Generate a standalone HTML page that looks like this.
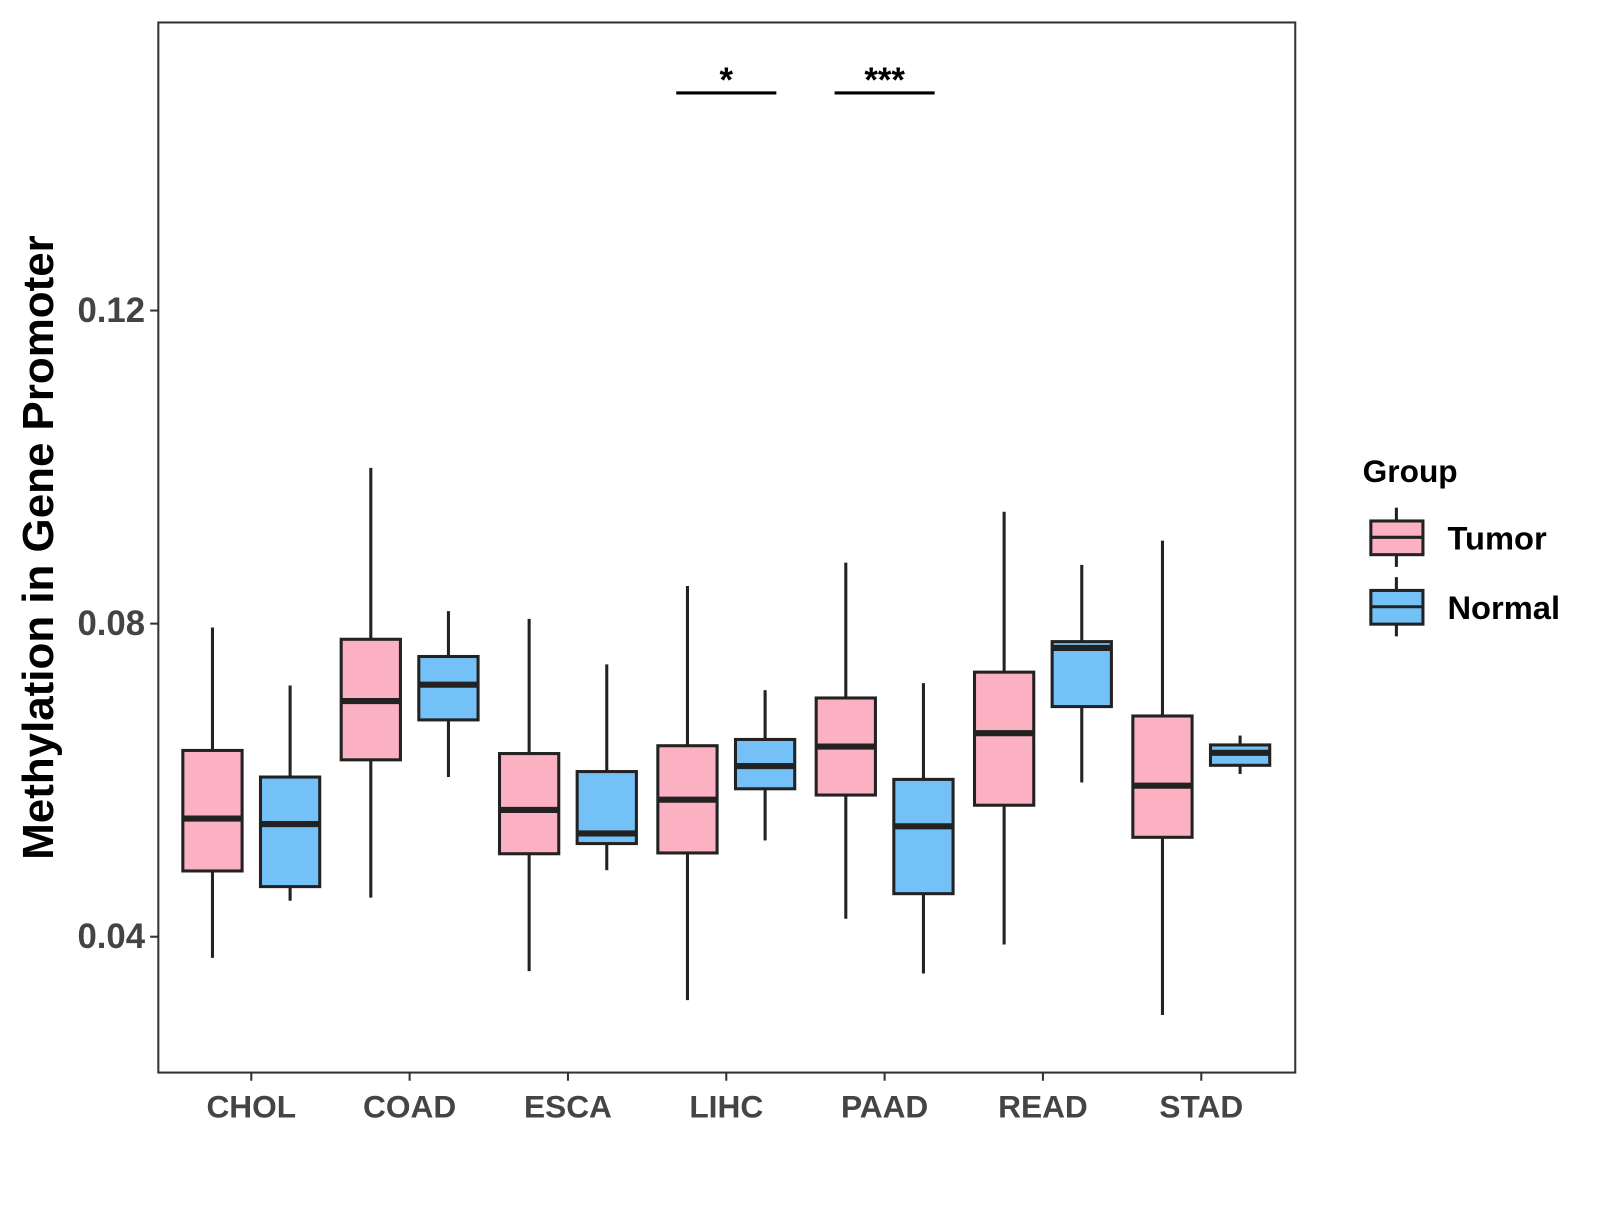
<!DOCTYPE html>
<html><head><meta charset="utf-8"><style>
body{margin:0;background:#fff;}
svg text{font-family:"Liberation Sans",Arial,sans-serif;font-weight:bold;}
</style></head><body>
<svg id="chart" width="1600" height="1200" viewBox="0 0 1600 1200" xmlns="http://www.w3.org/2000/svg">
<rect x="0" y="0" width="1600" height="1200" fill="#fff"/>
<g transform="scale(1.0215)">
<rect x="155" y="22" width="1113" height="1028" fill="none" stroke="#333" stroke-width="2"/>
<g id="marks"></g>
<text x="0" y="0" transform="translate(52,536) rotate(-90)" text-anchor="middle" font-size="43" fill="#000">Methylation in Gene Promoter</text>
<g>
<text x="1334" y="472" font-size="31" fill="#000">Group</text>
<g>
<line x1="1367" y1="497" x2="1367" y2="555" stroke="#222" stroke-width="3"/>
<rect x="1342" y="510" width="51" height="33" fill="#fbb1c2" stroke="#222" stroke-width="3"/>
<line x1="1342" y1="526" x2="1393" y2="526" stroke="#222" stroke-width="3"/>
<text x="1417" y="538" font-size="32" fill="#000">Tumor</text></g>
<g>
<line x1="1367" y1="565" x2="1367" y2="623" stroke="#222" stroke-width="3"/>
<rect x="1342" y="578" width="51" height="33" fill="#74c1f7" stroke="#222" stroke-width="3"/>
<line x1="1342" y1="594" x2="1393" y2="594" stroke="#222" stroke-width="3"/>
<text x="1417" y="606" font-size="32" fill="#000">Normal</text></g>
</g>
</g>
</svg>
<script>
const categories=["CHOL","COAD","ESCA","LIHC","PAAD","READ","STAD"];
const tumorMin=[0.0373,0.0450,0.0356,0.0319,0.0423,0.0390,0.0300];
const tumorQ1=[0.0484,0.0626,0.0506,0.0507,0.0581,0.0568,0.0527];
const tumorMed=[0.0551,0.0701,0.0562,0.0575,0.0643,0.0660,0.0593];
const tumorQ3=[0.0638,0.0780,0.0634,0.0644,0.0705,0.0738,0.0682];
const tumorMax=[0.0795,0.0999,0.0806,0.0848,0.0878,0.0943,0.0906];
const normalMin=[0.0446,0.0604,0.0485,0.0523,0.0353,0.0597,0.0608];
const normalQ1=[0.0464,0.0677,0.0519,0.0589,0.0455,0.0694,0.0619];
const normalMed=[0.0544,0.0722,0.0532,0.0618,0.0541,0.0769,0.0635];
const normalQ3=[0.0604,0.0758,0.0611,0.0652,0.0601,0.0777,0.0645];
const normalMax=[0.0721,0.0816,0.0748,0.0715,0.0724,0.0875,0.0657];
const yTicks=[0.04,0.08,0.12];
const yTickLabels=["0.04","0.08","0.12"];
const sigCats=["LIHC","PAAD"];
const sigLabels=["*","***"];
const sigLevel=0.1478;

const NS="http://www.w3.org/2000/svg";
const g=document.getElementById("marks");
function y(v){return 917-(v-0.04)*7662.5;}
function x(i){return 246+i*155;}
function mk(tag,attrs,parent){const e=document.createElementNS(NS,tag);for(const k in attrs)e.setAttribute(k,attrs[k]);(parent||g).appendChild(e);return e;}

yTicks.forEach((t,i)=>{
  const tk=mk("line",{x1:147,x2:155,y1:y(t),y2:y(t),stroke:"#333","stroke-width":2});
  
  
  const tl=mk("text",{x:142,y:y(t)+11,"text-anchor":"end","font-size":34,fill:"#444"});
  tl.textContent=yTickLabels[i];
  
  
});
categories.forEach((c,i)=>{
  const tk=mk("line",{x1:x(i),x2:x(i),y1:1050,y2:1058,stroke:"#333","stroke-width":2});
  
  
  const tl=mk("text",{x:x(i),y:1094,"text-anchor":"middle","font-size":31,fill:"#444"});
  tl.textContent=c;
  
  
});
function box(cx,mn,q1,md,q3,mx,fill,name){
  const bg=mk("g",{});
  
  
  mk("line",{x1:cx,x2:cx,y1:y(mx),y2:y(q3),stroke:"#222","stroke-width":3},bg);
  mk("line",{x1:cx,x2:cx,y1:y(q1),y2:y(mn),stroke:"#222","stroke-width":3},bg);
  mk("rect",{x:cx-29,y:y(q3),width:58,height:y(q1)-y(q3),fill:fill,stroke:"#222","stroke-width":3},bg);
  mk("line",{x1:cx-29,x2:cx+29,y1:y(md),y2:y(md),stroke:"#222","stroke-width":6},bg);
}
categories.forEach((c,i)=>{
  box(x(i)-38,tumorMin[i],tumorQ1[i],tumorMed[i],tumorQ3[i],tumorMax[i],"#fbb1c2","box-tumor-"+c.toLowerCase());
  box(x(i)+38,normalMin[i],normalQ1[i],normalMed[i],normalQ3[i],normalMax[i],"#74c1f7","box-normal-"+c.toLowerCase());
});
sigCats.forEach((c,j)=>{
  const i=categories.indexOf(c);
  const ln=mk("line",{x1:x(i)-49,x2:x(i)+49,y1:y(sigLevel),y2:y(sigLevel),stroke:"#000","stroke-width":3});
  
  
  const t=mk("text",{x:x(i),y:y(sigLevel)-1,"text-anchor":"middle","font-size":34,fill:"#000"});
  t.textContent=sigLabels[j];
  
  
});
</script>
</body></html>
